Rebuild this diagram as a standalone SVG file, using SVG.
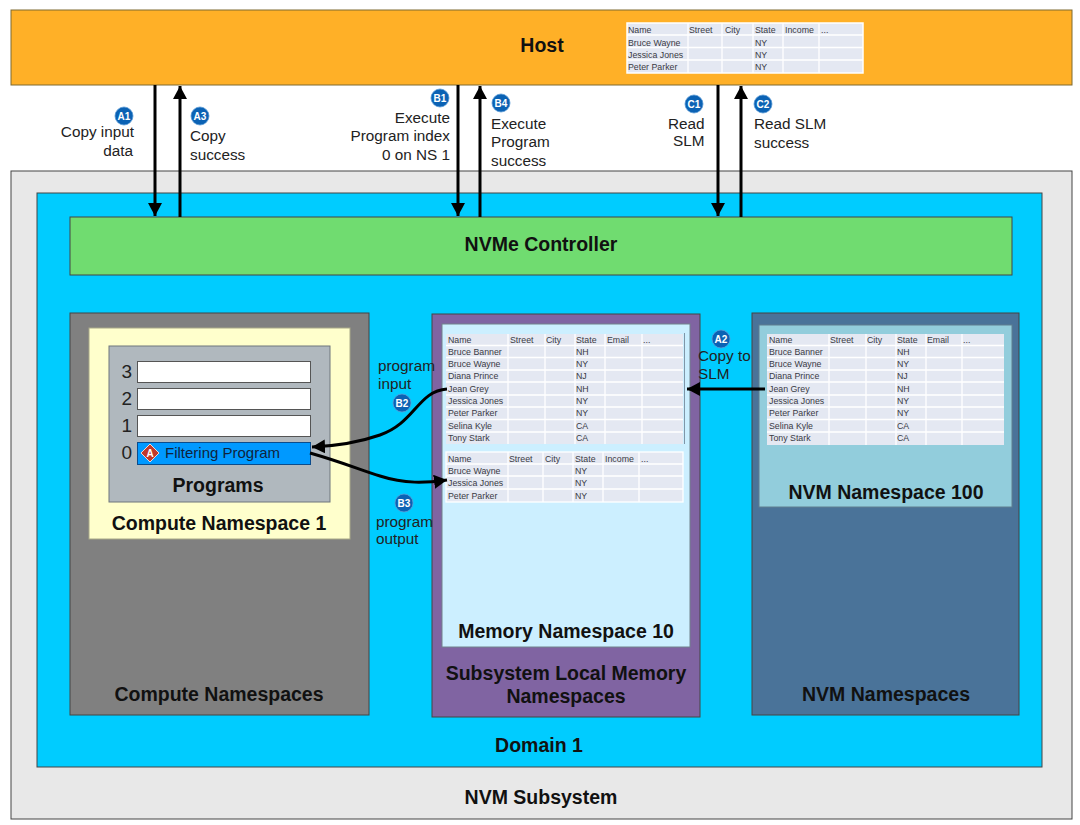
<svg xmlns="http://www.w3.org/2000/svg" width="1080" height="825" viewBox="0 0 1080 825">
<style>
text{font-family:"Liberation Sans",Arial,sans-serif;fill:#111}
.t{font-size:19.500px;font-weight:bold;text-anchor:middle}
.l{font-size:15.300px;fill:#222}
.e{text-anchor:end}
.n{font-size:19px;text-anchor:end;fill:#222}
.c{font-size:8.800px;fill:#3a3a44}
.b{font-size:10px;font-weight:bold;fill:#fff;text-anchor:middle}
.badge{fill:#0b62b4;stroke:#5b9bd5;stroke-width:.8}
.a{fill:none;stroke:#000;stroke-width:3}
.cell{fill:#e4e8f2}
.slot{fill:#fff;stroke:#555;stroke-width:1}
.box{stroke:#444;stroke-width:1}
</style>
<defs>
<marker id="ah" markerUnits="userSpaceOnUse" markerWidth="15" markerHeight="15" refX="13" refY="7" orient="auto"><path d="M0,0L13,7L0,14Z" fill="#000"/></marker>
</defs>

<g id="subsystem"><rect class="box" x="11" y="171" width="1061" height="648" fill="#e8e8e8"/><text class="t" x="541" y="804">NVM Subsystem</text></g>
<g id="domain"><rect class="box" x="37" y="193" width="1005" height="574" fill="#00ccff"/><text class="t" x="539" y="752">Domain 1</text></g>

<g id="host"><rect x="11" y="10" width="1061" height="75" fill="#ffb027" stroke="#7f6a30"/><text class="t" x="542" y="52">Host</text>
<rect x="627" y="23" width="236" height="50" fill="#e4e8f2" stroke="#fff" stroke-width="1.500"/>
<path d="M627,35H863M627,47.500H863M627,60H863M688,23V73M722,23V73M753,23V73M783,23V73M819,23V73" stroke="#fff" stroke-width="1.300"/>
<text class="c" x="628" y="33">Name</text><text class="c" x="689" y="33">Street</text><text class="c" x="725" y="33">City</text><text class="c" x="755" y="33">State</text><text class="c" x="785" y="33">Income</text><text class="c" x="821" y="33">...</text>
<text class="c" x="628" y="46">Bruce Wayne</text><text class="c" x="755" y="46">NY</text><text class="c" x="628" y="58">Jessica Jones</text><text class="c" x="755" y="58">NY</text><text class="c" x="628" y="70">Peter Parker</text><text class="c" x="755" y="70">NY</text></g>

<g id="controller"><rect class="box" x="70" y="217" width="942" height="58" fill="#70dc70"/><text class="t" x="541" y="251">NVMe Controller</text></g>

<g id="compute-namespaces"><rect class="box" x="70" y="313" width="299" height="402" fill="#808080"/><text class="t" x="219" y="701">Compute Namespaces</text></g>
<g id="compute-ns-1"><rect x="89" y="328" width="261" height="211" fill="#ffffcc" stroke="#a8a888"/><text class="t" x="219" y="530">Compute Namespace 1</text></g>
<g id="programs"><rect x="109" y="346" width="221" height="156" fill="#b0b8be" stroke="#6f767c"/><text class="t" x="218" y="492">Programs</text>
<rect class="slot" x="137.500" y="361.500" width="173" height="21"/><rect class="slot" x="137.500" y="388.500" width="173" height="21"/><rect class="slot" x="137.500" y="415.500" width="173" height="21"/>
<text class="n" x="132" y="378">3</text><text class="n" x="132" y="405">2</text><text class="n" x="132" y="432">1</text><text class="n" x="132" y="459">0</text></g>
<g id="filtering-program"><rect x="137.500" y="442.500" width="173" height="22" fill="#0099ff" stroke="#0b4c8c"/>
<path d="M150,444L159,453L150,462L141,453Z" fill="#c0392b" stroke="#f0d8d0" stroke-width="1"/><text x="150" y="457" font-size="10" font-weight="bold" text-anchor="middle" style="fill:#fff">A</text>
<text x="165" y="458" font-size="15" style="fill:#10243c">Filtering Program</text></g>

<g id="slm-namespaces"><rect class="box" x="432" y="314" width="268" height="403" fill="#8064a2"/><text class="t" x="566" y="680">Subsystem Local Memory</text><text class="t" x="566" y="703">Namespaces</text></g>
<g id="memory-ns-10"><rect x="442" y="324" width="248" height="323" fill="#ccefff" stroke="#71828c"/><text class="t" x="566" y="638">Memory Namespace 10</text>
<rect x="446" y="334" width="237" height="110" fill="#e4e8f2"/>
<path d="M446,345.500H683M446,357.500H683M446,370H683M446,382H683M446,395H683M446,407H683M446,419.500H683M446,432H683M508,334V444M545,334V444M575,334V444M605,334V444M642,334V444" stroke="#fff" stroke-width="1.300"/>
<path d="M684.500,333V444" stroke="#7f96a8" stroke-width="1"/>
<text class="c" x="448" y="343">Name</text><text class="c" x="510" y="343">Street</text><text class="c" x="546" y="343">City</text><text class="c" x="576" y="343">State</text><text class="c" x="607" y="343">Email</text><text class="c" x="643" y="343">...</text>
<text class="c" x="448" y="355">Bruce Banner</text><text class="c" x="576" y="355">NH</text>
<text class="c" x="448" y="367">Bruce Wayne</text><text class="c" x="576" y="367">NY</text>
<text class="c" x="448" y="379">Diana Prince</text><text class="c" x="576" y="379">NJ</text>
<text class="c" x="448" y="392">Jean Grey</text><text class="c" x="576" y="392">NH</text>
<text class="c" x="448" y="404">Jessica Jones</text><text class="c" x="576" y="404">NY</text>
<text class="c" x="448" y="416">Peter Parker</text><text class="c" x="576" y="416">NY</text>
<text class="c" x="448" y="429">Selina Kyle</text><text class="c" x="576" y="429">CA</text>
<text class="c" x="448" y="441">Tony Stark</text><text class="c" x="576" y="441">CA</text>
<rect x="446" y="452" width="237" height="50" fill="#e4e8f2" stroke="#fff" stroke-width="1.300"/>
<path d="M446,464H683M446,476H683M446,489H683M508,452V502M543,452V502M573,452V502M603,452V502M639,452V502" stroke="#fff" stroke-width="1.300"/>
<text class="c" x="448" y="462">Name</text><text class="c" x="509" y="462">Street</text><text class="c" x="545" y="462">City</text><text class="c" x="575" y="462">State</text><text class="c" x="605" y="462">Income</text><text class="c" x="641" y="462">...</text>
<text class="c" x="448" y="474">Bruce Wayne</text><text class="c" x="575" y="474">NY</text>
<text class="c" x="448" y="486">Jessica Jones</text><text class="c" x="575" y="486">NY</text>
<text class="c" x="448" y="499">Peter Parker</text><text class="c" x="575" y="499">NY</text></g>

<g id="nvm-namespaces"><rect class="box" x="752" y="313" width="267" height="402" fill="#4a7399"/><text class="t" x="886" y="701">NVM Namespaces</text></g>
<g id="nvm-ns-100"><rect x="759" y="325" width="253" height="182" fill="#92cddc" stroke="#5f7f90"/><text class="t" x="886" y="499">NVM Namespace 100</text>
<rect x="767" y="334" width="237" height="111" fill="#e4e8f2"/>
<path d="M767,345.500H1004M767,357.500H1004M767,370H1004M767,382H1004M767,395H1004M767,407H1004M767,419.500H1004M767,432H1004M829,334V445M866,334V445M896,334V445M926,334V445M962,334V445" stroke="#fff" stroke-width="1.300"/>
<text class="c" x="769" y="343">Name</text><text class="c" x="830" y="343">Street</text><text class="c" x="867" y="343">City</text><text class="c" x="897" y="343">State</text><text class="c" x="927" y="343">Email</text><text class="c" x="963" y="343">...</text>
<text class="c" x="769" y="355">Bruce Banner</text><text class="c" x="897" y="355">NH</text>
<text class="c" x="769" y="367">Bruce Wayne</text><text class="c" x="897" y="367">NY</text>
<text class="c" x="769" y="379">Diana Prince</text><text class="c" x="897" y="379">NJ</text>
<text class="c" x="769" y="392">Jean Grey</text><text class="c" x="897" y="392">NH</text>
<text class="c" x="769" y="404">Jessica Jones</text><text class="c" x="897" y="404">NY</text>
<text class="c" x="769" y="416">Peter Parker</text><text class="c" x="897" y="416">NY</text>
<text class="c" x="769" y="429">Selina Kyle</text><text class="c" x="897" y="429">CA</text>
<text class="c" x="769" y="441">Tony Stark</text><text class="c" x="897" y="441">CA</text></g>

<g id="connectors">
<path class="a" marker-end="url(#ah)" d="M155,85V216"/>
<path class="a" marker-end="url(#ah)" d="M180,217V86"/>
<path class="a" marker-end="url(#ah)" d="M458,85V216"/>
<path class="a" marker-end="url(#ah)" d="M480,217V86"/>
<path class="a" marker-end="url(#ah)" d="M718,85V216"/>
<path class="a" marker-end="url(#ah)" d="M741,217V86"/>
<path class="a" marker-end="url(#ah)" d="M765,389H687"/>
<path class="a" marker-end="url(#ah)" d="M447,389C418,391 415,423 380,435C360,442 335,446 312,447"/>
<path class="a" marker-end="url(#ah)" d="M310,453C345,463 360,470 380,476C405,484 425,483 447,480"/>
</g>

<g id="labels">
<circle class="badge" cx="124" cy="116" r="9"/><text class="b" x="124" y="120">A1</text>
<text class="l e" x="134" y="137">Copy input</text><text class="l e" x="133" y="156">data</text>
<circle class="badge" cx="200" cy="116" r="9"/><text class="b" x="200" y="120">A3</text>
<text class="l" x="190" y="141">Copy</text><text class="l" x="190" y="160">success</text>
<circle class="badge" cx="440" cy="98" r="9"/><text class="b" x="440" y="102">B1</text>
<text class="l e" x="450" y="123">Execute</text><text class="l e" x="450" y="141">Program index</text><text class="l e" x="450" y="160">0 on NS 1</text>
<circle class="badge" cx="501" cy="103" r="9"/><text class="b" x="501" y="107">B4</text>
<text class="l" x="491" y="129">Execute</text><text class="l" x="491" y="147">Program</text><text class="l" x="491" y="166">success</text>
<circle class="badge" cx="694" cy="104" r="9"/><text class="b" x="694" y="108">C1</text>
<text class="l" x="668" y="129">Read</text><text class="l" x="673" y="146">SLM</text>
<circle class="badge" cx="763" cy="104" r="9"/><text class="b" x="763" y="108">C2</text>
<text class="l" x="754" y="129">Read SLM</text><text class="l" x="754" y="148">success</text>
<circle class="badge" cx="721" cy="339" r="9"/><text class="b" x="721" y="343">A2</text>
<text class="l" x="698" y="361">Copy to</text><text class="l" x="698" y="379">SLM</text>
<text class="l" x="378" y="371">program</text><text class="l" x="378" y="389">input</text>
<circle class="badge" cx="402" cy="403" r="9"/><text class="b" x="402" y="407">B2</text>
<circle class="badge" cx="404" cy="503" r="9"/><text class="b" x="404" y="507">B3</text>
<text class="l" x="376" y="527">program</text><text class="l" x="376" y="544">output</text>
</g>
</svg>
